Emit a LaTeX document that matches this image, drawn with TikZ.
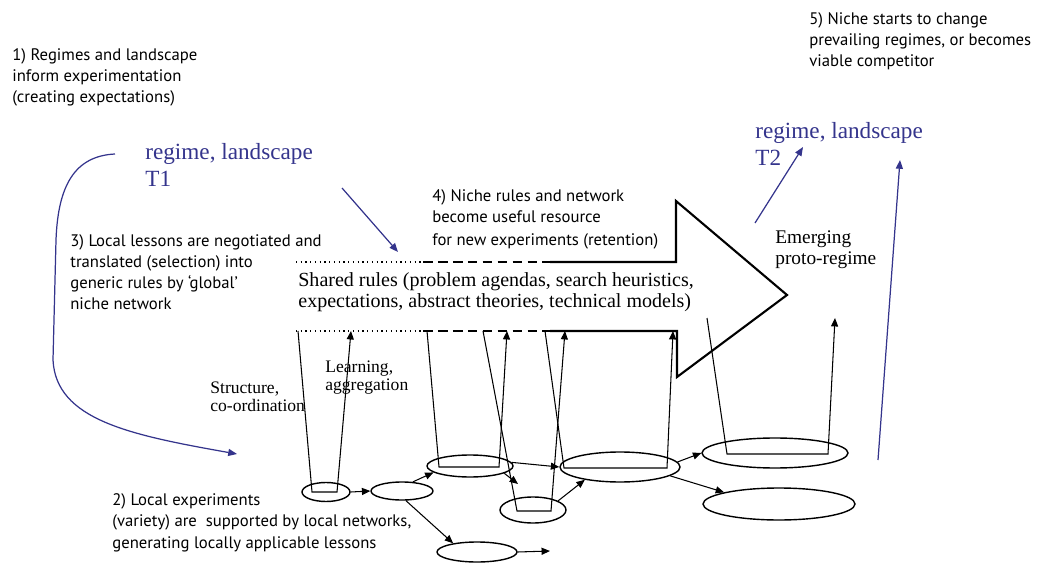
\documentclass[tikz,border=0pt]{standalone}
\usepackage{fontspec}
\setmainfont{Liberation Serif}
\newfontfamily\notefont{PT Sans}
\usetikzlibrary{shapes.geometric,arrows.meta,calc}
\definecolor{regblue}{RGB}{52,52,140}
\tikzset{
  expt/.style={draw, ellipse, inner sep=0pt, line width=0.8pt},
  link/.style={-{Triangle[length=4.8pt,width=4pt]}, line width=0.6pt},
  bluelink/.style={regblue, -{Triangle[length=5pt,width=4pt]}, line width=0.7pt},
  note/.style={anchor=base west, align=left, inner sep=0pt, font=\notefont\fontsize{9.5}{12}\selectfont},
  regtext/.style={anchor=base west, align=left, inner sep=0pt, text=regblue, font=\fontsize{13.2}{15.4}\selectfont},
  rmtext/.style={anchor=base west, align=left, inner sep=0pt, font=\fontsize{10}{10.2}\selectfont},
  rules/.style={anchor=base west, align=left, inner sep=0pt, font=\fontsize{11.4}{12.3}\selectfont},
}
\begin{document}
\begin{tikzpicture}[x=0.02cm,y=-0.02cm]
\useasboundingbox (0,0) rectangle (1040,563);

%-------- notes (placed at the baseline of their last line)
\node[note] (lab1) at (12,103) {1) Regimes and landscape\\inform experimentation\\(creating expectations)};
\node[note] (lab3) at (70,310) {3) Local lessons are negotiated and\\translated (selection) into\\generic rules by ‘global’\\niche network};
\node[note] (lab4) at (432,246) {4) Niche rules and network\\become useful resource\\[1.5pt]for new experiments (retention)};
\node[note] (lab5) at (809,67) {5) Niche starts to change\\prevailing regimes, or becomes\\viable competitor};
\node[note] (lab2) at (112,548) {2) Local experiments\\(variety) are \ supported by local networks,\\generating locally applicable lessons};

%-------- regime labels
\node[regtext] (t1) at (145,187) {regime, landscape\\T1};
\node[regtext] (t2) at (755,166) {regime, landscape\\T2};

%-------- serif labels
\node[rules] (shared) at (298,308) {Shared rules (problem agendas, search heuristics,\\expectations, abstract theories, technical models)};
\node[rules, font=\fontsize{11}{12}\selectfont] (proto) at (775,265) {Emerging\\proto-regime};
\node[rmtext] (struct) at (210,411) {Structure,\\co-ordination};
\node[rmtext] (learn) at (325,390) {Learning,\\aggregation};

%-------- big arrow of shared rules
\draw[dotted, line width=0.7pt] (296,262) -- (423,262) (296,331) -- (423,331);
\draw[dash pattern=on 5.5pt off 3pt, line width=1pt] (423,262) -- (550,262) (423,331) -- (550,331);
\draw[line width=1.2pt] (550,262) -- (676,262) -- (676,201) -- (787,295) -- (677,377) -- (677,331) -- (550,331);

%-------- local experiments
\node[expt, minimum width=0.96cm, minimum height=0.38cm] (e1) at (326,492) {};
\node[expt, minimum width=1.24cm, minimum height=0.36cm] (e2) at (402,491) {};
\node[expt, minimum width=1.72cm, minimum height=0.44cm] (e3) at (470,466) {};
\node[expt, minimum width=1.6cm, minimum height=0.4cm] (e4) at (477,552) {};
\node[expt, minimum width=1.32cm, minimum height=0.52cm] (e5) at (533,510) {};
\node[expt, minimum width=2.4cm, minimum height=0.6cm] (e6) at (620,467) {};
\node[expt, minimum width=2.92cm, minimum height=0.6cm] (e7) at (775,453) {};
\node[expt, minimum width=3.04cm, minimum height=0.64cm] (e8) at (779,504) {};

%-------- structure down, learning up
\draw[link] (298,331) -- ($(e1)+(-14,0)$) -- ($(e1)+(11,0)$) -- (351,331);
\draw[link] (427,331) -- ($(e3)+(-31,1)$) -- ($(e3)+(29,1)$) -- (507,331);
\draw[link] (483,331) -- ($(e5)+(-16,1)$) -- ($(e5)+(18,1)$) -- (565,331);
\draw[link] (545,331) -- ($(e6)+(-56,1)$) -- ($(e6)+(47,1)$) -- (673,331);
\draw[link] (707,318) -- ($(e7)+(-48,1)$) -- ($(e7)+(53,1)$) -- (835,318);

%-------- links between experiments
\coordinate (e4out) at (550,551);
\coordinate (e5in) at (518,484);
\draw[link] (e1.east) -- (e2.west);
\draw[link] (e2.40) -- (e3.190);
\draw[link] (e2.-68) -- (e4.160);
\draw[link] (e4.east) -- (e4out);
\draw[link] (e3.-12) -- (e5in);
\draw[link] (e3.5) -- (e6.west);
\draw[link] (e5.20) -- (e6.200);
\draw[link] (e6.5) -- (e7.west);
\draw[link] (e6.-10) -- (e8.168);

%-------- regime influences
\coordinate (t1a) at (342,188);
\coordinate (t1b) at (398,252);
\coordinate (t1c) at (115,154);
\coordinate (lab2in) at (237,454);
\coordinate (p1) at (755,223);
\coordinate (p2) at (803,147);
\coordinate (p3) at (878,460);
\coordinate (p4) at (900,160);
\draw[bluelink] (t1a) -- (t1b);
\draw[bluelink] (t1c) .. controls (75,156) and (58,185) .. (56,240) -- (53,360) .. controls (56,420) and (130,435) .. (lab2in);
\draw[bluelink] (p1) -- (p2);
\draw[bluelink] (p3) -- (p4);
\end{tikzpicture}
\end{document}
